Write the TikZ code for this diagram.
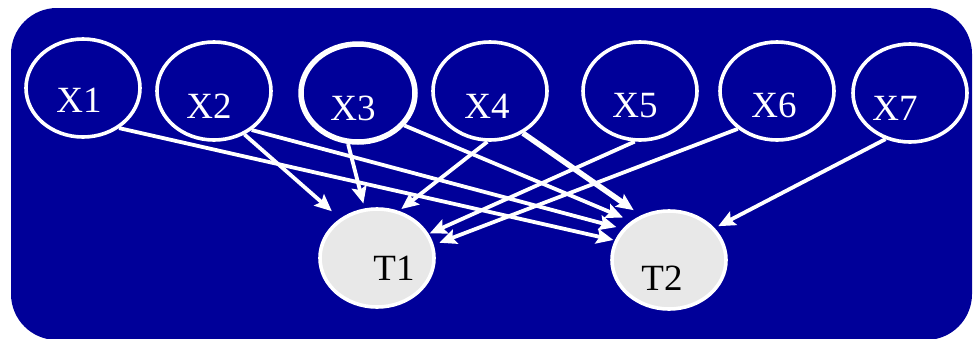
\documentclass[tikz,border=0pt]{standalone}
\usepackage{fontspec}
\setmainfont{Liberation Serif}
\usetikzlibrary{shapes.geometric,arrows.meta}
\definecolor{bgblue}{RGB}{0,0,153}
\definecolor{tgray}{RGB}{232,232,232}
\begin{document}
\begin{tikzpicture}[x=1pt,y=-1pt,
 xnode/.style={ellipse,draw=white,line width=3.6pt,minimum width=114pt,minimum height=98pt,inner sep=0pt},
 tnode/.style={ellipse,draw=white,fill=tgray,line width=3.6pt,minimum width=114pt,minimum height=98pt,inner sep=0pt},
 xlab/.style={text=white,font=\fontsize{37}{40}\selectfont,inner sep=0pt},
 tlab/.style={text=black,font=\fontsize{37}{40}\selectfont,inner sep=0pt},
 link/.style={draw=white,line width=3.8pt,-{Stealth[length=17pt,width=15pt,inset=3pt]}}
]
\useasboundingbox (0,0) rectangle (973,338);
\fill[bgblue,rounded corners=46pt] (11,8) rectangle (972,340);

\node[xnode,label={[xlab,xshift=-4pt,yshift=-12pt]center:X1}] (X1) at (83,88) {};
\node[xnode,label={[xlab,xshift=-5pt,yshift=-15pt]center:X2}] (X2) at (214,91) {};
\node[xnode,line width=5.5pt,label={[xlab,xshift=-5pt,yshift=-15pt]center:X3}] (X3) at (358,93) {};
\node[xnode,label={[xlab,xshift=-3pt,yshift=-15pt]center:X4}] (X4) at (490,91) {};
\node[xnode,label={[xlab,xshift=-5pt,yshift=-15pt]center:X5}] (X5) at (640,91) {};
\node[xnode,label={[xlab,xshift=-3pt,yshift=-14pt]center:X6}] (X6) at (777,91) {};
\node[xnode,label={[xlab,xshift=-15pt,yshift=-15pt]center:X7}] (X7) at (910,93) {};

\node[tnode,label={[tlab,xshift=17pt,yshift=-10pt]center:T1}] (T1) at (377,258) {};
\node[tnode,label={[tlab,xshift=-7pt,yshift=-18pt]center:T2}] (T2) at (669,260) {};

\draw[link,shorten >=11pt] (X2.-55) -- (T1.133);
\draw[link,shorten >=5pt] (X3.-101) -- (T1.104);
\draw[link,shorten >=3pt] (X4.-93) -- (T1.65);
\draw[link,shorten >=1pt] (X5.-96) -- (T1.25);
\draw[link,shorten >=6pt] (X6.-136) -- (T1.13);
\draw[link,shorten >=1.5pt] (X1.-48) -- (T2.160);
\draw[link,shorten >=6.5pt] (X2.-46) -- (T2.146);
\draw[link,shorten >=9pt] (X3.-35) -- (T2.134);
\draw[link,line width=5.5pt,shorten >=9pt] (X4.-52) -- (T2.122);
\draw[link,shorten >=4pt] (X7.-118) -- (T2.35.5);
\end{tikzpicture}
\end{document}
